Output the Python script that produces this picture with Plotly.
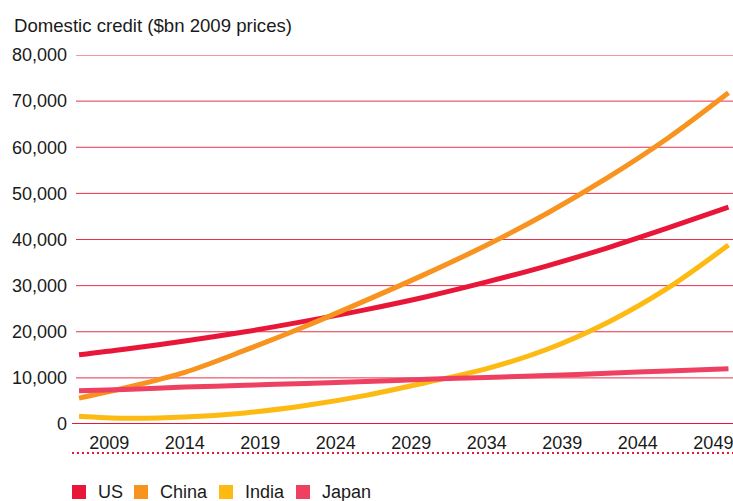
import plotly.graph_objects as go

# Domestic credit projections, $bn at 2009 prices
years = [2007, 2010, 2014, 2018, 2022, 2026, 2030, 2034, 2038, 2042, 2046, 2050]
us = [15000, 16200, 18000, 20000, 22300, 24800, 27600, 30800, 34300, 38200, 42500, 47000]
china = [5600, 7800, 11200, 16000, 21200, 26800, 32600, 38800, 45700, 53400, 62000, 71800]
india = [1700, 1250, 1500, 2400, 4000, 6200, 9000, 12000, 16200, 22000, 29500, 38800]
japan = [7200, 7500, 8000, 8400, 8800, 9200, 9700, 10100, 10500, 11000, 11500, 12000]

tick_years = [2009, 2014, 2019, 2024, 2029, 2034, 2039, 2044, 2049]
y_ticks = [0, 10000, 20000, 30000, 40000, 50000, 60000, 70000, 80000]

series = [
    ("US", us, "#e8173a"),
    ("China", china, "#f7931e"),
    ("India", india, "#fcba12"),
    ("Japan", japan, "#ee4162"),
]

W, H = 733, 501
L, R, T, B = 76, 0, 55, 77
PW, PH = W - L - R, H - T - B
FONT = "Liberation Sans, Arial, Helvetica, sans-serif"
TEXT = "#1a1a1a"


def px_x(x):
    return (x - L) / PW


def px_y(y):
    return (H - B - y) / PH


fig = go.Figure()
for name, vals, color in series:
    fig.add_trace(go.Scatter(
        x=years, y=vals, name=name, mode="lines",
        line=dict(color=color, width=5, shape="spline", smoothing=0.9),
        showlegend=False, hoverinfo="skip",
    ))

shapes = []
# horizontal gridlines at each value tick above zero
for v in y_ticks[1:]:
    shapes.append(dict(type="line", xref="paper", yref="y", x0=0, x1=1,
                       y0=v, y1=v, layer="below",
                       line=dict(color="#e8304a", width=1)))
shapes += [
    # zero baseline
    dict(type="line", xref="paper", yref="y", x0=px_x(72), x1=1, y0=0, y1=0,
         layer="below", line=dict(color="#e8173a", width=2)),
    # dotted separator under the year labels
    dict(type="line", xref="paper", yref="paper", x0=px_x(72), x1=1,
         y0=px_y(453), y1=px_y(453),
         line=dict(color="#e8173a", width=2, dash="2px,3px")),
]

annotations = [
    dict(text="Domestic credit ($bn 2009 prices)", xref="paper", yref="paper",
         x=px_x(12), y=px_y(26), xanchor="left", yanchor="middle",
         showarrow=False, font=dict(size=18.6, color=TEXT, family=FONT)),
]

# Legend: coloured squares with labels
legend_pos = [(72, 96), (134, 158), (219, 243), (296, 320)]
for (sq_x, tx_x), (name, _, color) in zip(legend_pos, series):
    shapes.append(dict(type="rect", xref="paper", yref="paper",
                       x0=px_x(sq_x), x1=px_x(sq_x + 14),
                       y0=px_y(485), y1=px_y(499),
                       fillcolor=color, line=dict(width=0)))
    annotations.append(dict(text=name, xref="paper", yref="paper",
                            x=px_x(tx_x), y=px_y(492), xanchor="left",
                            yanchor="middle", showarrow=False,
                            font=dict(size=18, color=TEXT, family=FONT)))

fig.update_layout(
    width=W, height=H,
    margin=dict(l=L, r=R, t=T, b=B, pad=0),
    paper_bgcolor="white", plot_bgcolor="white",
    font=dict(family=FONT, size=18, color=TEXT),
    shapes=shapes, annotations=annotations,
    xaxis=dict(
        range=[2006.8, 2050.3], tickmode="array", tickvals=tick_years,
        ticktext=[str(y) for y in tick_years], showgrid=False, zeroline=False,
        showline=False, ticks="", ticklabelstandoff=6,
        ticklabeloverflow="allow",
        tickfont=dict(size=18, color=TEXT),
    ),
    yaxis=dict(
        range=[0, 80000], tickmode="array", tickvals=y_ticks,
        ticktext=[f"{v:,}" for v in y_ticks], showgrid=False,
        zeroline=False, showline=False,
        ticks="", ticklabelstandoff=8, tickfont=dict(size=18, color=TEXT),
    ),
)

fig.write_html("out.html")
